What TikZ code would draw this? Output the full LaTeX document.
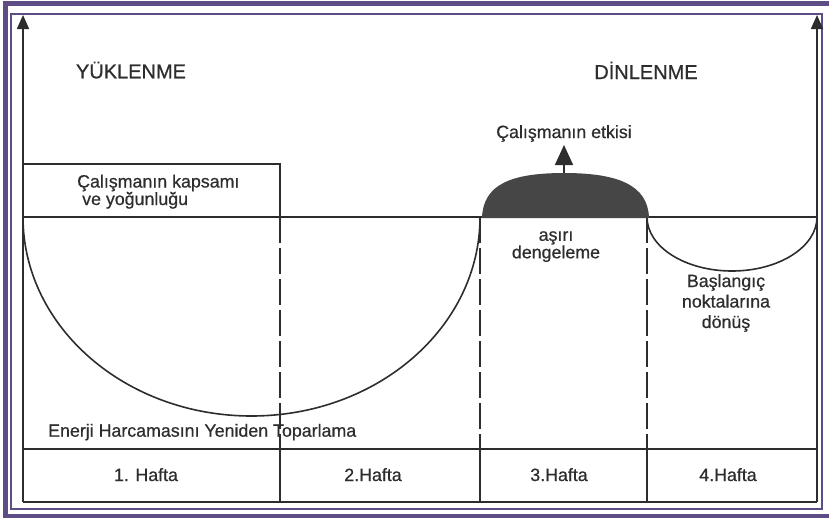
\documentclass[tikz,border=0pt]{standalone}
\usepackage{fontspec}
\setmainfont{Liberation Sans}[FakeBold=0.6]
\usetikzlibrary{arrows.meta, positioning}
\definecolor{framepurple}{RGB}{94,76,132}
\definecolor{ink}{RGB}{45,45,45}
\definecolor{domegray}{RGB}{70,70,70}
\tikzset{
  chartline/.style={draw=ink, line width=1.6pt},
  weekline/.style ={chartline, dash pattern=on 26pt off 5pt},   % dashed week border
  yaxis/.style    ={chartline, -{Triangle[length=14pt, width=12pt]}},
  pointer/.style  ={chartline, -{Triangle[length=20pt, width=18pt]}},
  txt/.style      ={text=ink, inner sep=0pt, font=\fontsize{17.8}{17.5}\selectfont},
  heading/.style  ={txt, font=\fontsize{20}{24}\selectfont},
  week/.style     ={txt, anchor=base},
}

\begin{document}
\begin{tikzpicture}[x=1pt, y=-1pt]
\useasboundingbox (0,0) rectangle (829,517);

% double purple frame
\draw[framepurple, line width=5pt] (5,3.2) rectangle (831,516.5);
\draw[framepurple, line width=2pt] (11,14.3) rectangle (821.5,509.3);

% grid points
\coordinate (lb) at (23,502);
\coordinate (lt) at (23,15);
\coordinate (rb) at (817,502);
\coordinate (rt) at (817,15);
\coordinate (b0) at (23,217);
\coordinate (b1) at (280,217);
\coordinate (b2) at (480,217);
\coordinate (b3) at (647,217);
\coordinate (b4) at (817,217);
\coordinate (w0) at (23,449);
\coordinate (w1) at (280,449);
\coordinate (w2) at (480,449);
\coordinate (w3) at (647,449);
\coordinate (w4) at (817,449);
\coordinate (f1) at (280,502);
\coordinate (f2) at (480,502);
\coordinate (f3) at (647,502);
\coordinate (boxtl) at (23,164);
\coordinate (boxtr) at (280,164);
\coordinate (top) at (564,173);
\coordinate (tip) at (564,145);

% axes and baseline
\draw[yaxis] (lb) -- (lt);
\draw[yaxis] (rb) -- (rt);
\draw[chartline] (b0) -- (b4);
\draw[chartline] (boxtl) -- (boxtr) -- (b1);

% week row
\draw[chartline] (w0) -- (w4);
\draw[chartline] (lb) -- (rb);
\draw[chartline] (w1) -- (f1);
\draw[chartline] (w2) -- (f2);
\draw[chartline] (w3) -- (f3);
\draw[weekline] (b1) -- (w1);
\draw[weekline] (b2) -- (w2);
\draw[weekline] (b3) -- (w3);

% curves
\draw[chartline] (b0) arc[start angle=180, end angle=0, x radius=228.5, y radius=199];
\draw[chartline] (b3) arc[start angle=180, end angle=0, x radius=85, y radius=54];
\fill[domegray] (482,218) .. controls (483,185) and (510,173) .. (top)
  .. controls (618,173) and (648,185) .. (649,218) -- cycle;
\draw[pointer] (top) -- (tip);

% texts
\node[heading, anchor=base] (load) at (131,78.3) {YÜKLENME};
\node[heading, anchor=base] (rest) at (646,79) {DİNLENME};
\node[txt, above=3pt of tip] (effect) {Çalışmanın etkisi};
\node[txt, anchor=base west, align=left] (scope) at (77,205)
  {Çalışmanın kapsamı\\\hspace*{5pt}ve yoğunluğu};
\node[txt, anchor=base, align=center] (over) at (556,258.3) {aşırı\\dengeleme};
\node[txt, anchor=base, align=center, font=\fontsize{17.8}{20.5}\selectfont]
  (back) at (726,328) {Başlangıç\\noktalarına\\dönüş};
\node[txt, anchor=base west] (energy) at (48,436.7) {Enerji Harcamasını Yeniden Toparlama};

\node[week] (wk1) at (146,481) {1. Hafta};
\node[week] (wk2) at (373,481) {2.Hafta};
\node[week] (wk3) at (559,481) {3.Hafta};
\node[week] (wk4) at (728,481) {4.Hafta};

\end{tikzpicture}
\end{document}
